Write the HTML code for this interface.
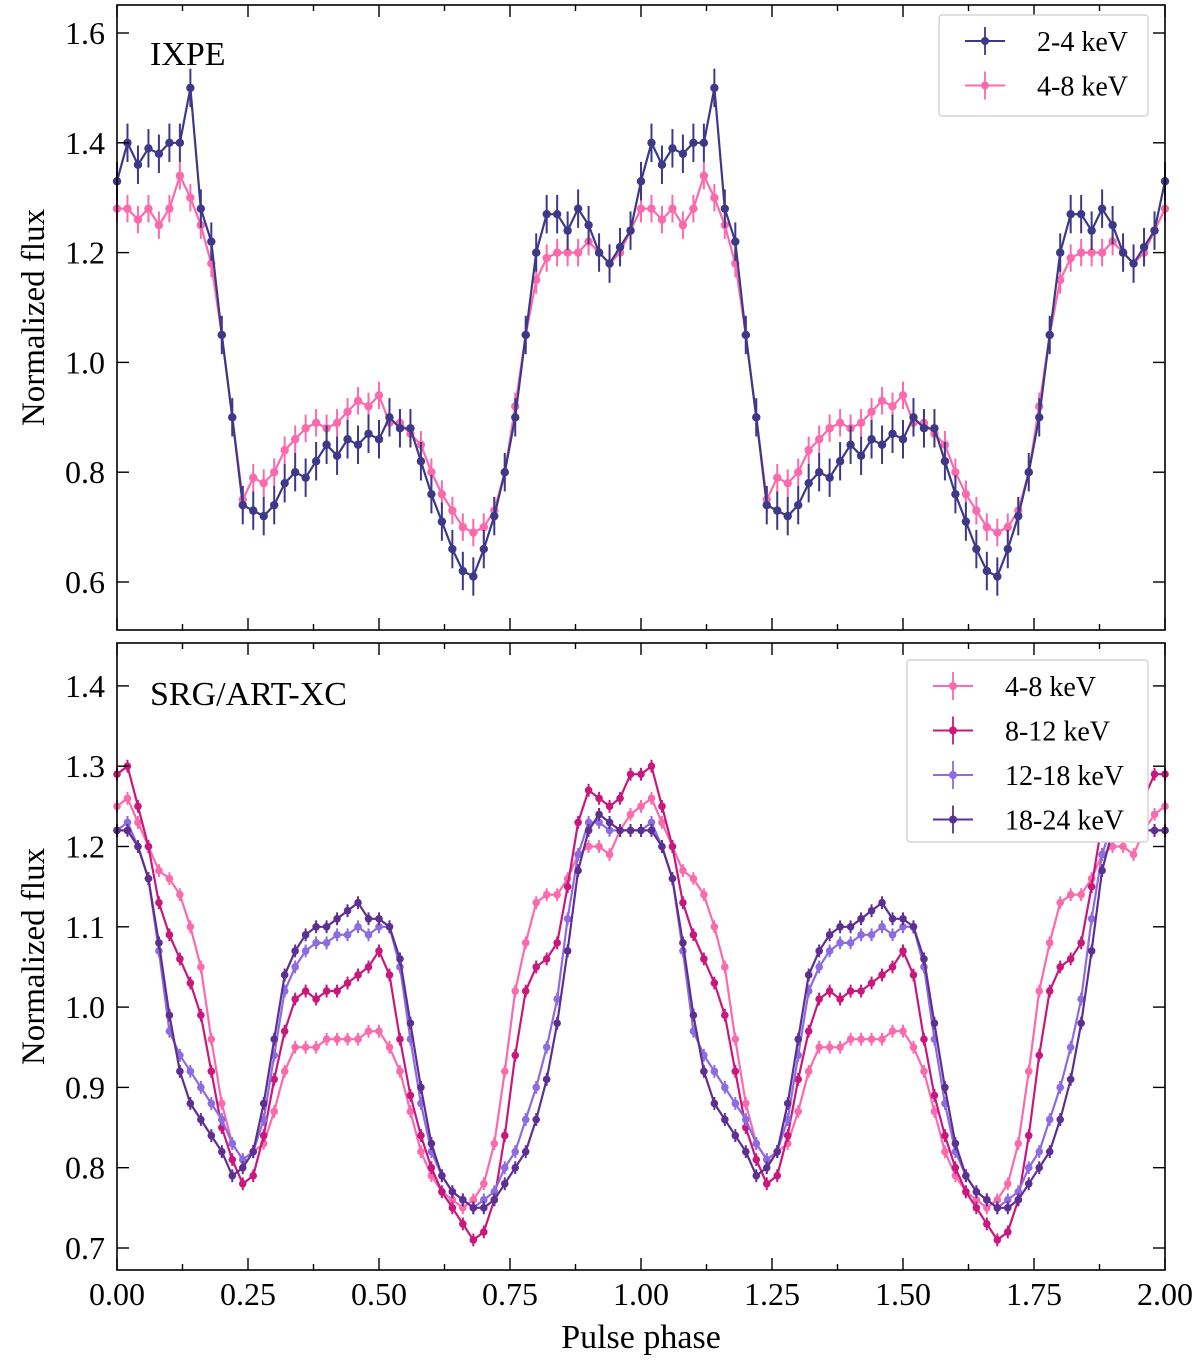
<!DOCTYPE html>
<html><head><meta charset="utf-8"><style>
html,body{margin:0;padding:0;background:#fff}
svg{display:block}
text{font-family:"Liberation Serif",serif;fill:#000}
</style></head><body>
<svg id="chart" width="1200" height="1365" viewBox="0 0 1200 1365" xmlns="http://www.w3.org/2000/svg"></svg>
<script>
// phase grid: 0.00..0.98 step 0.02 (one period, repeated for phase 1-2)
const phaseStep = 0.02;
// IXPE panel
const ixpe_2_4 = [1.33,1.40,1.36,1.39,1.38,1.40,1.40,1.50,1.28,1.22,1.05,0.90,0.74,0.73,0.72,0.74,0.78,0.80,0.79,0.82,0.85,0.83,0.86,0.85,0.87,0.86,0.90,0.88,0.88,0.82,0.76,0.71,0.66,0.62,0.61,0.66,0.72,0.80,0.90,1.05,1.20,1.27,1.27,1.24,1.28,1.25,1.20,1.18,1.21,1.24];
const ixpe_4_8 = [1.28,1.28,1.26,1.28,1.25,1.28,1.34,1.30,1.25,1.18,1.05,0.90,0.75,0.79,0.78,0.80,0.84,0.86,0.88,0.89,0.88,0.89,0.91,0.93,0.92,0.94,0.89,0.89,0.87,0.85,0.80,0.76,0.73,0.70,0.69,0.70,0.73,0.80,0.92,1.05,1.15,1.19,1.20,1.20,1.20,1.22,1.20,1.18,1.20,1.24];
// SRG/ART-XC panel
const art_4_8 = [1.25,1.26,1.23,1.20,1.17,1.16,1.14,1.10,1.05,0.96,0.88,0.83,0.81,0.82,0.83,0.87,0.92,0.95,0.95,0.95,0.96,0.96,0.96,0.96,0.97,0.97,0.95,0.92,0.87,0.82,0.79,0.77,0.76,0.75,0.76,0.78,0.83,0.92,1.02,1.08,1.13,1.14,1.14,1.16,1.19,1.20,1.20,1.19,1.22,1.24];
const art_8_12 = [1.29,1.30,1.25,1.20,1.13,1.09,1.06,1.03,0.99,0.92,0.85,0.81,0.78,0.79,0.84,0.91,0.97,1.01,1.02,1.01,1.02,1.02,1.03,1.04,1.05,1.07,1.04,0.96,0.89,0.84,0.80,0.77,0.75,0.73,0.71,0.72,0.76,0.84,0.94,1.02,1.05,1.06,1.08,1.15,1.23,1.27,1.26,1.25,1.26,1.29];
const art_12_18 = [1.22,1.23,1.20,1.16,1.07,0.97,0.94,0.92,0.90,0.88,0.86,0.83,0.81,0.82,0.86,0.94,1.02,1.05,1.07,1.08,1.08,1.09,1.09,1.10,1.09,1.10,1.10,1.05,0.96,0.88,0.82,0.79,0.77,0.76,0.75,0.76,0.77,0.80,0.82,0.86,0.90,0.95,1.01,1.11,1.19,1.23,1.23,1.22,1.22,1.22];
const art_18_24 = [1.22,1.22,1.20,1.16,1.08,0.99,0.92,0.88,0.86,0.84,0.82,0.79,0.80,0.82,0.88,0.96,1.04,1.07,1.09,1.10,1.10,1.11,1.12,1.13,1.11,1.11,1.10,1.06,0.98,0.90,0.83,0.79,0.77,0.76,0.75,0.75,0.76,0.78,0.80,0.82,0.86,0.91,0.98,1.07,1.17,1.22,1.24,1.23,1.22,1.22];
const xTicks = [0,0.25,0.5,0.75,1,1.25,1.5,1.75,2];
const xTickLabels = ["0.00","0.25","0.50","0.75","1.00","1.25","1.50","1.75","2.00"];
const topYTicks = [0.6,0.8,1.0,1.2,1.4,1.6];
const botYTicks = [0.7,0.8,0.9,1.0,1.1,1.2,1.3,1.4];

const NS="http://www.w3.org/2000/svg";
const svg=document.getElementById('chart');
function mk(tag,attrs,parent){const e=document.createElementNS(NS,tag);for(const k in attrs)e.setAttribute(k,attrs[k]);(parent||svg).appendChild(e);return e;}

const X0=117,X1=1165;
const xs=v=>X0+(X1-X0)*v/2;
const topP={y0:630,y1:5,ys:v=>582-(v-0.6)*549};
const botP={y0:1270,y1:643,ys:v=>1248-(v-0.7)*803};

function drawSeries(p,data,color,err,name,r){
  const g=mk('g',{});
  
  
  const n=data.length;
  const pts=[];
  for(let i=0;i<=2*n;i++){const x=i*phaseStep;const v=data[i%n];pts.push([xs(x),p.ys(v),p.ys(v+err),p.ys(v-err)]);}
  const line=mk('polyline',{points:pts.map(q=>q[0].toFixed(1)+','+q[1].toFixed(1)).join(' '),fill:'none',stroke:color,'stroke-width':2.2},g);
  
  
  pts.forEach((q,i)=>{
    const eb=mk('line',{x1:q[0],x2:q[0],y1:q[2],y2:q[3],stroke:color,'stroke-width':2},g);
    
    
    const c=mk('circle',{cx:q[0],cy:q[1],r:r,fill:color},g);
    
    
  });
}

function axes(p,yTicks,yMinor,showX,prefix){
  const f=v=>v.toFixed(1);
  const fr=mk('rect',{x:X0,y:p.y1,width:X1-X0,height:p.y0-p.y1,fill:'none',stroke:'#000','stroke-width':1.6});
  
  
  for(let i=0;i<=16;i++){
    const v=i*0.125,x=xs(v),L=(i%2===0)?12:6;
    const t1=mk('line',{x1:x,x2:x,y1:p.y0,y2:p.y0-L,stroke:'#000','stroke-width':1.4});
    
    
    const t2=mk('line',{x1:x,x2:x,y1:p.y1,y2:p.y1+L,stroke:'#000','stroke-width':1.4});
    
    
  }
  yTicks.forEach(v=>{
    const y=p.ys(v);
    const a=mk('line',{x1:X0,x2:X0+12,y1:y,y2:y,stroke:'#000','stroke-width':1.4});
    
    
    const b=mk('line',{x1:X1,x2:X1-12,y1:y,y2:y,stroke:'#000','stroke-width':1.4});
    
    
    const t=mk('text',{x:X0-12,y:y+11,'text-anchor':'end','font-size':32});
    t.textContent=f(v);
    
    
  });
  const yt=mk('text',{x:0,y:0,'text-anchor':'middle','font-size':33,transform:`translate(44,${(p.y0+p.y1)/2}) rotate(-90)`});
  yt.textContent='Normalized flux';
  
  
  if(showX){
    xTicks.forEach((v,i)=>{
      const t=mk('text',{x:xs(v),y:p.y0+35,'text-anchor':'middle','font-size':32});
      t.textContent=xTickLabels[i];
      
      
    });
  }
}

function legend(x,y,w,h,items,prefix){
  const box=mk('rect',{x:x,y:y,width:w,height:h,fill:'#fff',stroke:'#ccc','stroke-width':1.2,rx:3});
  
  
  items.forEach((it,i)=>{
    const cy=y+26+i*44.5;
    const g=mk('g',{});
    
    
    mk('line',{x1:x+26,x2:x+66,y1:cy,y2:cy,stroke:it[0],'stroke-width':2},g);
    mk('line',{x1:x+46,x2:x+46,y1:cy-14,y2:cy+14,stroke:it[0],'stroke-width':1.8},g);
    mk('circle',{cx:x+46,cy:cy,r:4,fill:it[0]},g);
    const t=mk('text',{x:x+98,y:cy+10,'font-size':28},g);
    t.textContent=it[1];
  });
}

const C_DB='#3e3888', C_PK='#fb6aac', C_MG='#c8187e', C_LV='#8d6be0', C_DP='#5e2f93';

// top panel
drawSeries(topP,ixpe_4_8,C_PK,0.025,'ixpe-4-8kev',4.2);
drawSeries(topP,ixpe_2_4,C_DB,0.035,'ixpe-2-4kev',4.2);
axes(topP,topYTicks,null,false,'top');
const l1=mk('text',{x:150,y:65,'font-size':34});l1.textContent='IXPE';


legend(939,15,209,101,[[C_DB,'2-4 keV'],[C_PK,'4-8 keV']],'top');

// bottom panel
drawSeries(botP,art_4_8,C_PK,0.008,'art-4-8kev',3.8);
drawSeries(botP,art_8_12,C_MG,0.008,'art-8-12kev',3.8);
drawSeries(botP,art_12_18,C_LV,0.008,'art-12-18kev',3.8);
drawSeries(botP,art_18_24,C_DP,0.008,'art-18-24kev',3.8);
axes(botP,botYTicks,null,true,'bottom');
const l2=mk('text',{x:150,y:705,'font-size':34});l2.textContent='SRG/ART-XC';


legend(907,660,241,182,[[C_PK,'4-8 keV'],[C_MG,'8-12 keV'],[C_LV,'12-18 keV'],[C_DP,'18-24 keV']],'bottom');

const xt=mk('text',{x:641,y:1348,'text-anchor':'middle','font-size':34});xt.textContent='Pulse phase';


</script>
</body></html>
